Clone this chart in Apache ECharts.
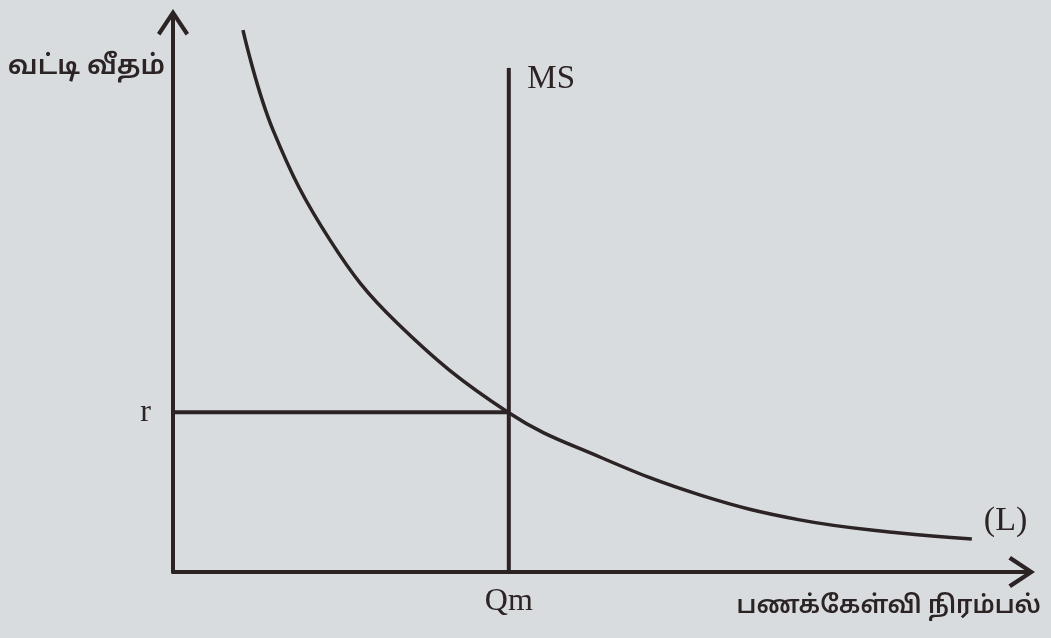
<!DOCTYPE html>
<html>
<head>
<meta charset="utf-8">
<script src="https://cdn.jsdelivr.net/npm/echarts@6/dist/echarts.min.js"></script>
<style>
    html, body { margin: 0; padding: 0; background: #d9dcdf; }
    #chart { width: 1051px; height: 638px; }
</style>
</head>
<body>
<div id="chart"></div>
<script>
// பணக்கேள்வி வளையி (L)
var demandQ = [8.25, 11.8, 18.5, 26.4, 39.5, 50.4, 62.2, 73.9, 85.7, 94.2];
var demandR = [98.7, 80.5, 60.5, 45.4, 29.1, 20.9, 14.0, 9.5, 7.1, 6.0];
var qmValue = 39.6, rValue = 29.1, msTop = 91.8;
var xTicks = ['Qm'], yTicks = ['r'];
var seriesNames = ['(L)', 'MS'];

var INK = '#2b2324';
var SERIF = '"Liberation Serif", "DejaVu Serif", serif';
var TAMIL = '"Noto Sans Tamil", "Noto Sans", "Lohit Tamil", sans-serif';
// chevron arrow with its own shaft
var ARROW = 'path://M16,0 L32,24 L28.6,26.6 L18,10.5 L18,28 L14,28 L14,10.5 L3.4,26.6 L0,24 Z';

var chart = echarts.init(document.getElementById('chart'), null, { renderer: 'canvas' });

let demandData = demandQ.map((q, i) => [q, demandR[i]]);

var option = {
    backgroundColor: '#d9dcdf',
    animation: false,
    grid: { left: 173, top: 23, right: 30, bottom: 66 },
    xAxis: {
        type: 'value', min: 0, max: 100,
        splitLine: { show: false },
        axisTick: { show: false },
        axisLine: {
            lineStyle: { color: INK, width: 4 },
            symbol: ['none', ARROW],
            symbolSize: [34, 28]
        },
        axisLabel: {
            customValues: [qmValue],
            formatter: () => xTicks[0],
            margin: 14,
            color: INK, fontFamily: SERIF, fontSize: 32
        }
    },
    yAxis: {
        type: 'value', min: 0, max: 100,
        splitLine: { show: false },
        axisTick: { show: false },
        axisLine: {
            lineStyle: { color: INK, width: 4 },
            symbol: ['none', ARROW],
            symbolSize: [34, 28]
        },
        axisLabel: {
            customValues: [rValue],
            formatter: () => yTicks[0],
            margin: 22,
            color: INK, fontFamily: SERIF, fontSize: 32
        }
    },
    series: [{
        name: seriesNames[0],
        type: 'line',
        data: demandData,
        smooth: 0.4,
        showSymbol: false,
        lineStyle: { color: INK, width: 3.5, cap: 'butt' },
        endLabel: {
            show: true,
            formatter: seriesNames[0],
            offset: [4, -18],
            color: INK, fontFamily: SERIF, fontSize: 34
        }
    }, {
        name: seriesNames[1],
        type: 'line',
        data: [[qmValue, 0], [qmValue, msTop]],
        symbol: 'circle',
        symbolSize: 1,
        itemStyle: { color: INK },
        label: {
            show: true, position: 'right', distance: 18, offset: [0, 11],
            formatter: (p) => p.dataIndex == 1 ? seriesNames[1] : '',
            color: INK, fontFamily: SERIF, fontSize: 33
        },
        lineStyle: { color: INK, width: 4, cap: 'butt' }
    }, {
        name: 'r',
        type: 'line',
        data: [[0, rValue], [qmValue, rValue]],
        symbol: 'none',
        lineStyle: { color: INK, width: 4 }
    }],
    graphic: [{
        type: 'text', right: 886, top: 55,
        style: { text: 'வட்டி வீதம்', fill: INK, font: '600 27px ' + TAMIL }
    }, {
        type: 'text', right: 10, top: 596,
        style: { text: 'பணக்கேள்வி நிரம்பல்', fill: INK, font: '600 24.5px ' + TAMIL }
    }]
};
chart.setOption(option);
</script>
</body>
</html>
